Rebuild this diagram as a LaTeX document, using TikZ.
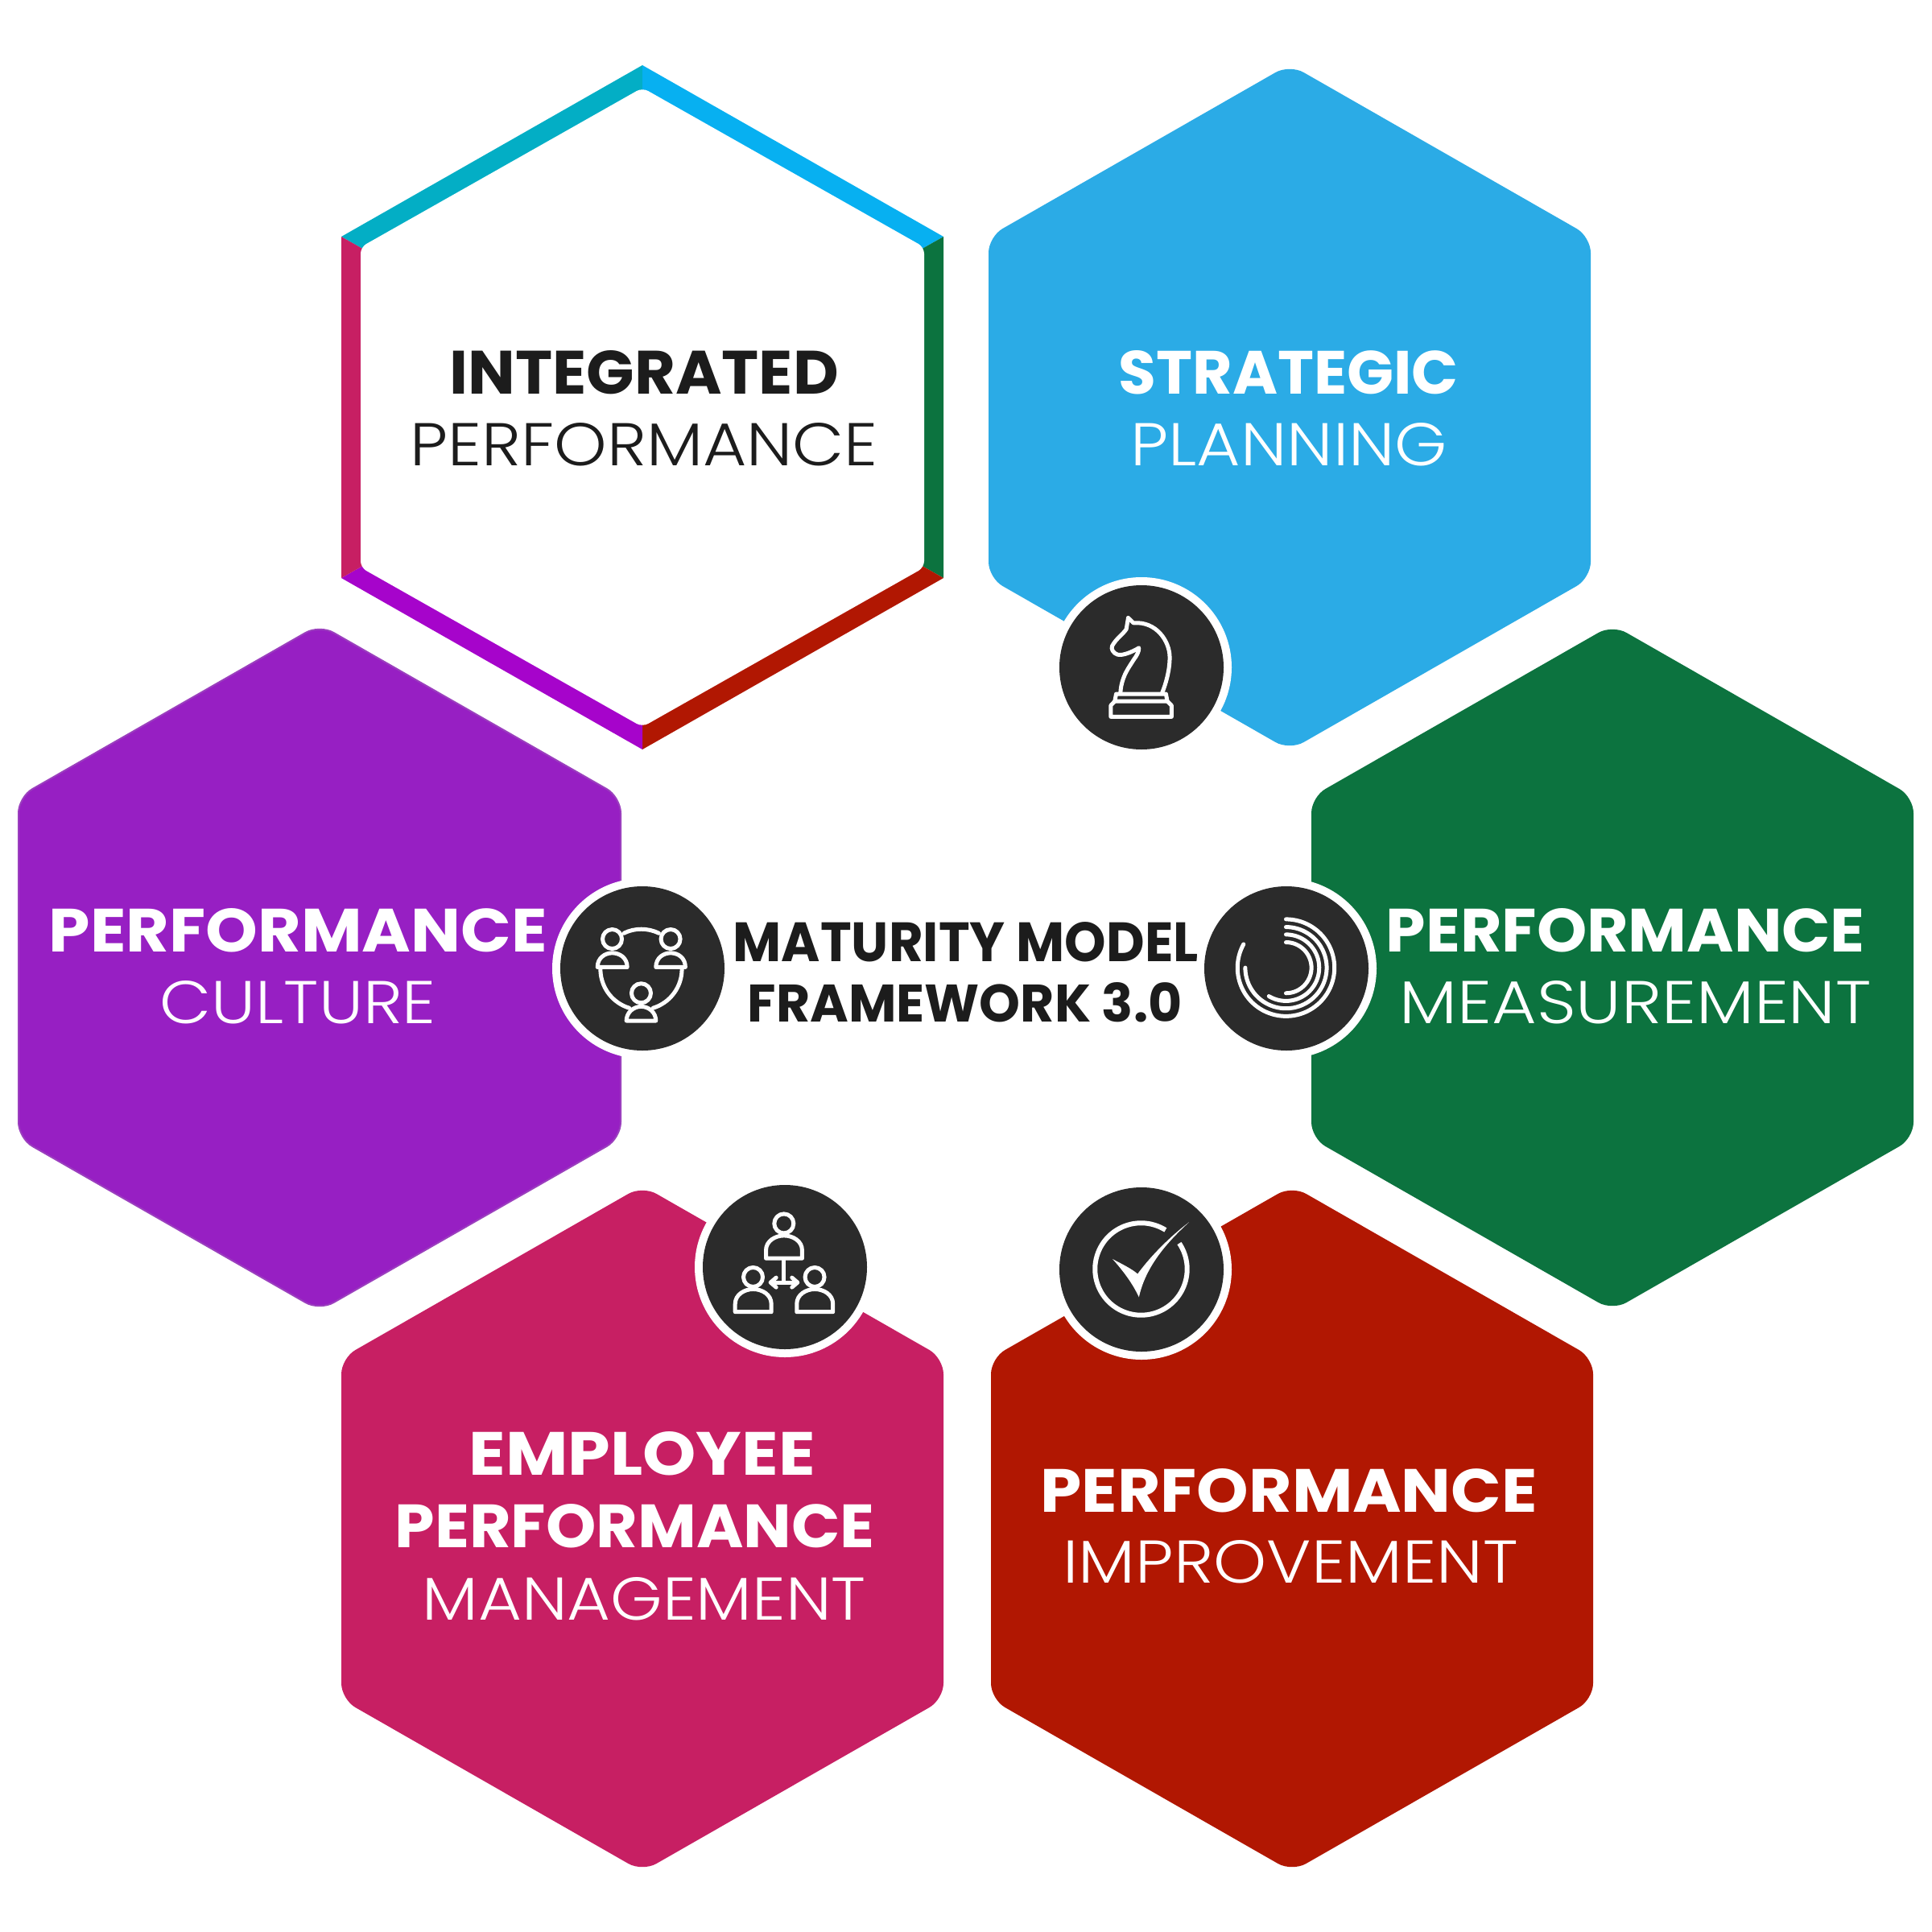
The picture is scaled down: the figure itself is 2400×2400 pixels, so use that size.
\documentclass[tikz,border=0pt]{standalone}
\usepackage{fontspec}
\setmainfont{Poppins}
\newfontfamily\lightf{Poppins Light}
\newfontfamily\boldf{Poppins}[BoldFont={Poppins Bold}]
\definecolor{cBlue}{HTML}{2BABE6}
\definecolor{cGreen}{HTML}{0C733F}
\definecolor{cPurple}{HTML}{971FC3}
\definecolor{cPurpleEdge}{HTML}{9B3FBE}
\definecolor{cPink}{HTML}{C71F63}
\definecolor{cRed}{HTML}{B11702}
\definecolor{cTeal}{HTML}{03AEC5}
\definecolor{cSky}{HTML}{07B0F1}
\definecolor{cViolet}{HTML}{A604CB}
\definecolor{cDark}{HTML}{2B2B2B}
\definecolor{cInk}{HTML}{1C1C1C}
\newlength\pxu
\setlength\pxu{0.01cm}
% centre x, centre y, colour options
\newcommand\hexcell[3]{%
  \path[#3,rounded corners=20\pxu] (#1,#2-426) -- (#1+374,#2-212) -- (#1+374,#2+212)
    -- (#1,#2+426) -- (#1-374,#2+212) -- (#1-374,#2-212) -- cycle;}
% name, x left, baseline y, width, cap height, font, colour, text
\newcommand\lbl[8]{%
  \node[anchor=base west,inner sep=0pt,text=#7] (#1) at (#2-4,#3)
    {\resizebox{\dimexpr#4\pxu+6\pxu\relax}{#5\pxu}{#6{}#8}};}
% centre x, centre y
\newcommand\badge[2]{%
  \fill[white] (#1,#2) circle (112\pxu);
  \fill[cDark] (#1,#2) circle (102\pxu);}
\tikzset{
  icon/.style={draw=white,line width=5\pxu,line join=round,line cap=round},
  zoomed/.style={x=0.0033333cm,y=-0.0033333cm},
}
\begin{document}
\begin{tikzpicture}[x=0.01cm,y=-0.01cm]
\useasboundingbox (0,0) rectangle (2400,2400);
\fill[white] (0,0) rectangle (2400,2400);

% framed hexagon
\coordinate (fc) at (798,506);
\coordinate (ft) at (798,81);
\coordinate (fur) at (1172,294);
\coordinate (flr) at (1172,718);
\coordinate (fb) at (798,931);
\coordinate (fll) at (424,718);
\coordinate (ful) at (424,294);
\fill[cTeal] (fc) -- (ful) -- (ft) -- cycle;
\fill[cSky] (fc) -- (ft) -- (fur) -- cycle;
\fill[cGreen] (fc) -- (fur) -- (flr) -- cycle;
\fill[cRed] (fc) -- (flr) -- (fb) -- cycle;
\fill[cViolet] (fc) -- (fb) -- (fll) -- cycle;
\fill[cPink] (fc) -- (fll) -- (ful) -- cycle;
\fill[white,rounded corners=8\pxu] (798,109) -- (1148,307) -- (1148,705) -- (798,903)
   -- (448,705) -- (448,307) -- cycle;

% filled hexagons
\hexcell{1602}{506}{fill=cBlue}
\hexcell{397}{1202}{fill=cPurple,draw=cPurpleEdge,line width=2\pxu}
\hexcell{2003}{1202}{fill=cGreen}
\hexcell{798}{1899}{fill=cPink}
\hexcell{1605}{1899}{fill=cRed}

% labels
\lbl{a1}{562}{489}{477}{54}{\boldf\bfseries}{cInk}{INTEGRATED}
\lbl{a2}{513}{578}{575}{53}{\lightf}{cInk}{PERFORMANCE}
\lbl{b1}{1393}{489}{416}{54}{\boldf\bfseries}{white}{STRATEGIC}
\lbl{b2}{1408}{578}{387}{53}{\lightf}{white}{PLANNING}
\lbl{c1}{64}{1182}{613}{54}{\boldf\bfseries}{white}{PERFORMANCE}
\lbl{c2}{202}{1271}{337}{53}{\lightf}{white}{CULTURE}
\lbl{d1}{1725}{1182}{589}{54}{\boldf\bfseries}{white}{PERFORMANCE}
\lbl{d2}{1742}{1271}{580}{53}{\lightf}{white}{MEASUREMENT}
\lbl{e1}{914}{1194}{572}{49}{\boldf\bfseries}{cInk}{MATURITY MODEL}
\lbl{e2}{932}{1269}{534}{49}{\boldf\bfseries}{cInk}{FRAMEWORK 3.0}
\lbl{f1}{586}{1832}{424}{54}{\boldf\bfseries}{white}{EMPLOYEE}
\lbl{f2}{494}{1922}{590}{54}{\boldf\bfseries}{white}{PERFORMANCE}
\lbl{f3}{528}{2012}{545}{53}{\lightf}{white}{MANAGEMENT}
\lbl{g1}{1296}{1878}{611}{54}{\boldf\bfseries}{white}{PERFORMANCE}
\lbl{g2}{1324}{1966}{559}{53}{\lightf}{white}{IMPROVEMENT}

% badges
\badge{1418}{829}
\badge{798}{1203}
\badge{1598}{1203}
\badge{975}{1574}
\badge{1418}{1577}

% knight
\begin{scope}[shift={(1280,700)},zoomed]
\draw[icon] (365,203) -- (385,222) .. controls (470,215) and (520,290) .. (520,350)
  .. controls (520,400) and (505,450) .. (492,482);
\draw[icon] (336,482) .. controls (340,420) and (370,385) .. (385,360)
  .. controls (398,342) and (405,330) .. (405,315)
  .. controls (380,330) and (345,345) .. (325,340)
  .. controls (310,335) and (300,320) .. (305,308)
  .. controls (320,280) and (345,265) .. (358,245) -- (365,203);
\draw[icon] (320,487) -- (506,487) -- (511,514) -- (315,514) -- cycle;
\draw[icon] (315,514) -- (300,530) -- (300,572) -- (527,572) -- (527,530) -- (511,514);
\end{scope}

% three people in a ring
\begin{scope}[shift={(670,1080)},zoomed]
\draw[icon] (272,260) circle (12\pxu);
\draw[icon] (490,260) circle (12\pxu);
\draw[icon] (380,462) circle (12\pxu);
\draw[icon] (217,365) .. controls (217,330) and (245,312) .. (272,312)
  .. controls (300,312) and (328,330) .. (328,365) -- cycle;
\draw[icon] (435,365) .. controls (435,330) and (463,312) .. (490,312)
  .. controls (518,312) and (545,330) .. (545,365) -- cycle;
\draw[icon] (325,565) .. controls (325,535) and (350,512) .. (380,512)
  .. controls (410,512) and (435,535) .. (435,565) -- cycle;
\draw[icon] (316,238) .. controls (355,218) and (405,218) .. (446,238);
\draw[icon] plot[domain=107:180,samples=30,smooth] ({380+152*cos(\x)},{372+152*sin(\x)});
\draw[icon] plot[domain=0:73,samples=30,smooth] ({380+152*cos(\x)},{372+152*sin(\x)});
\end{scope}

% spiral
\begin{scope}[shift={(1480,1080)},zoomed]
\draw[icon] plot[domain=-90:209,samples=80,smooth] ({353+181*cos(\x)},{367+181*sin(\x)});
\draw[icon] plot[domain=-90:180,samples=80,smooth] ({353+152*cos(\x)},{367+152*sin(\x)});
\draw[icon] plot[domain=-90:121,samples=60,smooth] ({353+124*cos(\x)},{367+124*sin(\x)});
\draw[icon] plot[domain=-90:90,samples=60,smooth] ({353+95*cos(\x)},{367+95*sin(\x)});
\end{scope}

% team of three
\begin{scope}[shift={(850,1460)},zoomed]
\draw[icon] (372,180) circle (12\pxu);
\draw[icon] (257,380) circle (12\pxu);
\draw[icon] (487,380) circle (12\pxu);
\draw[icon] (305,310) -- (440,310) -- (440,280) .. controls (440,245) and (405,225) .. (372,225)
  .. controls (340,225) and (305,245) .. (305,280) -- cycle;
\draw[icon] (190,510) -- (325,510) -- (325,480) .. controls (325,445) and (290,425) .. (257,425)
  .. controls (225,425) and (190,445) .. (190,480) -- cycle;
\draw[icon] (420,510) -- (555,510) -- (555,480) .. controls (555,445) and (520,425) .. (487,425)
  .. controls (455,425) and (420,445) .. (420,480) -- cycle;
\draw[icon] (372,315) -- (372,400);
\draw[icon] (325,400) -- (420,400);
\draw[icon] (343,382) -- (322,400) -- (343,418);
\draw[icon] (402,382) -- (423,400) -- (402,418);
\end{scope}

% check mark
\begin{scope}[shift={(1300,1460)},zoomed]
\draw[draw=white,line width=6\pxu] plot[domain=-34:302,samples=90,smooth] ({353+172*cos(\x)},{350+172*sin(\x)});
\fill[white] (247,313) .. controls (280,330) and (320,350) .. (340,368)
  .. controls (390,300) and (460,230) .. (532,175)
  .. controls (450,250) and (370,340) .. (345,455)
  .. controls (320,400) and (280,350) .. (247,313) -- cycle;
\end{scope}
\end{tikzpicture}
\end{document}
